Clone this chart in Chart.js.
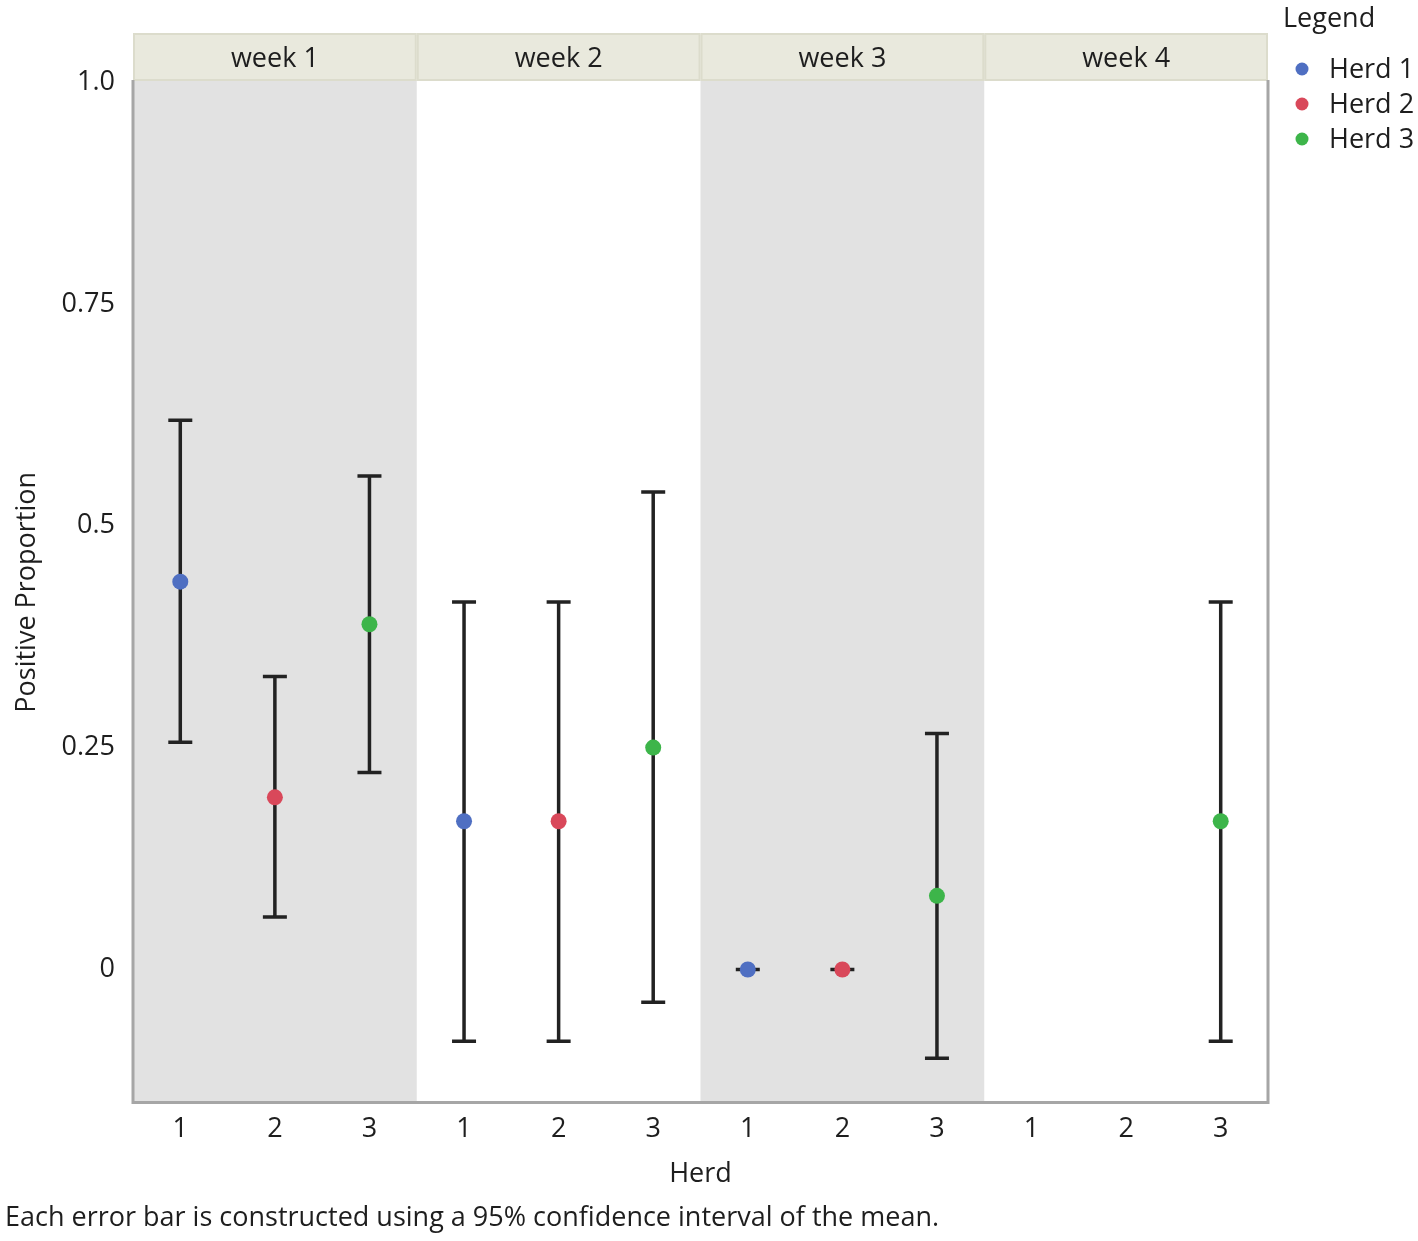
<!DOCTYPE html>
<html>
<head>
<meta charset="utf-8">
<title>Positive Proportion by Herd and Week</title>
<script src="https://cdn.jsdelivr.net/npm/chart.js@4"></script>
<style>
  html, body { margin: 0; padding: 0; background: #fff; }
  canvas { display: block; }
</style>
</head>
<body>
<canvas id="herd-chart" width="1418" height="1241"></canvas>
<script>
"use strict";

// veckor, besättningar och färger
const weeks = ["week 1", "week 2", "week 3", "week 4"];
const herds = ["Herd 1", "Herd 2", "Herd 3"];
const herdTicks = ["1", "2", "3"];
const herdColors = ["#4f6fc2", "#d9485a", "#3db54a"];

// medelvärde och 95% konfidensintervall per vecka (null = ingen data)
const herd1Mean  = [0.437, 0.167, 0, null];
const herd1Lower = [0.256, -0.081, 0, null];
const herd1Upper = [0.619, 0.414, 0, null];

const herd2Mean  = [0.194, 0.167, 0, null];
const herd2Lower = [0.059, -0.081, 0, null];
const herd2Upper = [0.330, 0.414, 0, null];

const herd3Mean  = [0.389, 0.250, 0.083, 0.167];
const herd3Lower = [0.222, -0.037, -0.100, -0.081];
const herd3Upper = [0.556, 0.538, 0.266, 0.414];

// y-axelns tick-värden och etiketter
const yTickValues = [0, 0.25, 0.5, 0.75, 1.0];
const yTickLabels = ["0", "0.25", "0.5", "0.75", "1.0"];

const footnote = "Each error bar is constructed using a 95% confidence interval of the mean.";

const FONT = "'Open Sans', 'Noto Sans', sans-serif";
const SIZE = 27;
const TEXT = "#1e1e1e";

const means = [herd1Mean, herd2Mean, herd3Mean];
const lowers = [herd1Lower, herd2Lower, herd3Lower];
const uppers = [herd1Upper, herd2Upper, herd3Upper];

// en x-kategori per vecka och besättning
const xLabels = weeks.flatMap(() => herdTicks);

function spread(values, herdIndex) {
    const out = new Array(xLabels.length).fill(null);
    values.forEach((v, w) => { out[w * herds.length + herdIndex] = v; });
    return out;
}

// bakgrund för varannan vecka + rubrikremsor
const panelPlugin = {
    id: "panels",
    beforeDraw(chart) {
        const {ctx, chartArea, scales: {x}} = chart;
        ctx.save();
        ctx.fillStyle = "#ffffff";
        ctx.fillRect(0, 0, chart.width, chart.height);

        weeks.forEach((week, w) => {
            const left = x.getPixelForValue(w * herds.length - 0.5);
            const right = x.getPixelForValue(w * herds.length + herds.length - 0.5);

            if (w % 2 === 0) {
                ctx.fillStyle = "#e2e2e2";
                ctx.fillRect(left, chartArea.top - 2, right - left, chartArea.bottom - chartArea.top + 2);
            }

            ctx.fillStyle = "#e9e9dd";
            ctx.fillRect(left, 34, right - left, chartArea.top - 36);
            ctx.strokeStyle = "#dcdccc";
            ctx.lineWidth = 2;
            ctx.strokeRect(left + 1, 34, right - left - 2, chartArea.top - 36);

            ctx.fillStyle = TEXT;
            ctx.font = SIZE + "px " + FONT;
            ctx.textAlign = "center";
            ctx.textBaseline = "middle";
            ctx.fillText(week, (left + right) / 2, 59);
        });
        ctx.restore();
    },
    beforeDatasetsDraw(chart) {
        const {ctx, chartArea, scales: {x, y}} = chart;
        ctx.save();

        // ram runt diagrammet
        ctx.strokeStyle = "#a6a6a6";
        ctx.lineWidth = 3;
        ctx.beginPath();
        ctx.moveTo(chartArea.left, chartArea.top - 2);
        ctx.lineTo(chartArea.left, chartArea.bottom);
        ctx.lineTo(chartArea.right, chartArea.bottom);
        ctx.lineTo(chartArea.right, chartArea.top - 2);
        ctx.stroke();

        // felstaplar
        ctx.strokeStyle = "#222222";
        ctx.lineWidth = 3.5;
        ctx.lineCap = "butt";
        means.forEach((herdMeans, h) => {
            herdMeans.forEach((m, w) => {
                if (m === null) return;
                const px = x.getPixelForValue(w * herds.length + h);
                const yLow = y.getPixelForValue(lowers[h][w]);
                const yHigh = y.getPixelForValue(uppers[h][w]);
                ctx.beginPath();
                ctx.moveTo(px, yLow);
                ctx.lineTo(px, yHigh);
                ctx.moveTo(px - 12, yLow);
                ctx.lineTo(px + 12, yLow);
                ctx.moveTo(px - 12, yHigh);
                ctx.lineTo(px + 12, yHigh);
                ctx.stroke();
            });
        });
        ctx.restore();
    },
    afterDraw(chart) {
        const {ctx, chartArea} = chart;
        const lx = chartArea.right + 15;
        ctx.save();
        ctx.font = SIZE + "px " + FONT;
        ctx.fillStyle = TEXT;
        ctx.textAlign = "left";
        ctx.textBaseline = "middle";
        ctx.fillText("Legend", lx, 19);
        herds.forEach((name, i) => {
            const cy = 69 + i * 35;
            ctx.fillStyle = herdColors[i];
            ctx.beginPath();
            ctx.arc(lx + 19, cy, 6.5, 0, Math.PI * 2);
            ctx.fill();
            ctx.fillStyle = TEXT;
            ctx.fillText(name, lx + 46, cy + 1);
        });
        ctx.restore();
    }
};

const chartEl = document.getElementById("herd-chart");

new Chart(chartEl, {
    type: "line",
    data: {
        labels: xLabels,
        datasets: herds.map((name, h) => ({
            label: name,
            data: spread(means[h], h),
            showLine: false,
            pointRadius: 8,
            pointHoverRadius: 8,
            pointBorderWidth: 0,
            pointBackgroundColor: herdColors[h],
            backgroundColor: herdColors[h],
            borderColor: herdColors[h]
        }))
    },
    options: {
        responsive: false,
        animation: false,
        devicePixelRatio: 1,
        layout: {
            padding: { top: 82, right: 150, left: 5, bottom: 0 }
        },
        plugins: {
            legend: { display: false },
            tooltip: { enabled: false },
            title: {
                display: true,
                text: footnote,
                position: "bottom",
                align: "start",
                color: TEXT,
                font: { family: FONT, size: SIZE, weight: "normal" },
                padding: { top: 0, bottom: 6 }
            }
        },
        scales: {
            x: {
                type: "category",
                offset: true,
                grid: { display: false, drawTicks: false },
                border: { display: false },
                ticks: {
                    color: TEXT,
                    font: { family: FONT, size: SIZE },
                    padding: 11,
                    maxRotation: 0,
                    autoSkip: false
                },
                title: {
                    display: true,
                    text: "Herd",
                    color: TEXT,
                    font: { family: FONT, size: SIZE },
                    padding: { top: 12, bottom: 12 }
                },
                afterFit(scale) {
                    scale.height = 100;
                }
            },
            y: {
                min: -0.15,
                max: 1.0,
                grid: { display: false, drawTicks: false },
                border: { display: false },
                afterBuildTicks(axis) {
                    axis.ticks = yTickValues.map(v => ({ value: v }));
                },
                ticks: {
                    color: TEXT,
                    font: { family: FONT, size: SIZE },
                    padding: 18,
                    callback: (value) => yTickLabels[yTickValues.indexOf(value)]
                },
                title: {
                    display: true,
                    text: "Positive Proportion",
                    color: TEXT,
                    font: { family: FONT, size: SIZE },
                    padding: { top: 6, bottom: 6 }
                },
                afterFit(scale) {
                    scale.width = 128;
                }
            }
        }
    },
    plugins: [panelPlugin]
});
</script>
</body>
</html>
